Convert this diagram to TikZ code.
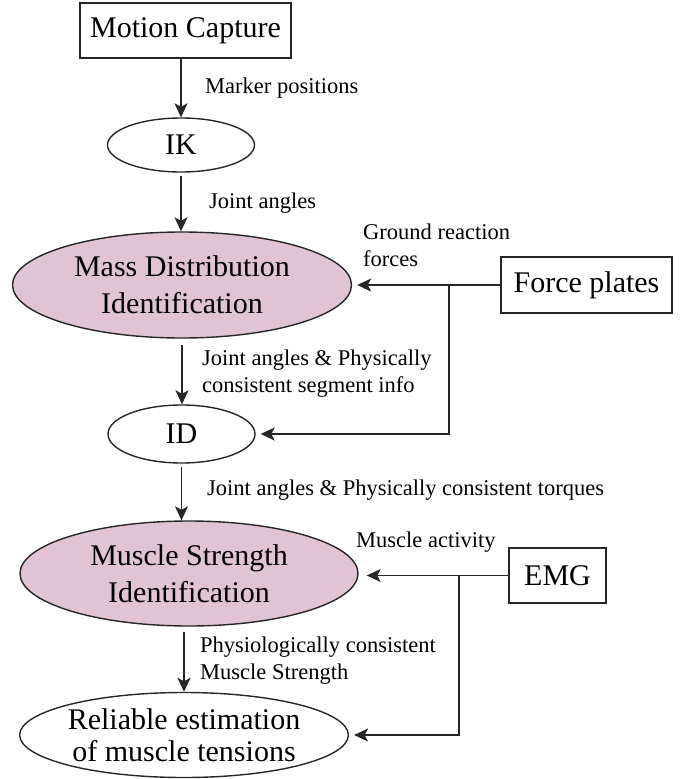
\documentclass[tikz,border=0pt]{standalone}
\usepackage{fontspec}
\setmainfont{Liberation Serif}
\usetikzlibrary{shapes.geometric, arrows.meta}
\definecolor{idpink}{RGB}{224,196,212}

\begin{document}
\begin{tikzpicture}[
    x=1pt, y=-1pt,
    bigtext/.style={font=\fontsize{30}{37}\selectfont, align=center, inner sep=0pt},
    datbox/.style={bigtext, rectangle, draw=black!85, line width=1.4pt},
    procell/.style={bigtext, ellipse, draw=black!85, line width=1.4pt},
    identcell/.style={procell, fill=idpink},
    flowtext/.style={font=\fontsize{22.5}{27}\selectfont, align=left, inner sep=0pt, anchor=north west},
    flowarr/.style={-{Stealth[length=14pt, width=13pt, inset=3.5pt]}, line width=1.4pt, black!85}
]
    \useasboundingbox (0,0) rectangle (683,779);

    % --- main column ---
    \node[datbox, minimum width=211pt, minimum height=55pt] (mocap) at (185.5,30.5) {Motion Capture};
    \node[procell, minimum width=147pt, minimum height=54pt] (ik) at (181,145) {IK};
    \node[identcell, minimum width=339pt, minimum height=106pt] (mdi) at (182,285) {Mass Distribution\\Identification};
    \node[procell, minimum width=147pt, minimum height=58pt] (id) at (181.5,434) {ID};
    \node[identcell, minimum width=338pt, minimum height=105pt] (msi) at (189,573.5) {Muscle Strength\\Identification};
    \node[procell, minimum width=304pt, minimum height=85pt, font=\fontsize{30}{32}\selectfont] (rel) at (184,735) {Reliable estimation\\of muscle tensions};

    % --- measured inputs ---
    \node[datbox, minimum width=171pt, minimum height=56pt] (fplate) at (586.5,285) {Force plates};
    \node[datbox, minimum width=97pt, minimum height=55pt] (emg) at (557.5,575.5) {EMG};

    % --- arrows down the column ---
    \draw[flowarr] (mocap.south -| ik.north) -- (ik.north);
    \draw[flowarr, shorten <=3pt] (ik.south) -- (ik.south |- mdi.north);
    \draw[flowarr, shorten <=6pt] (mdi.south) -- (mdi.south |- id.north);
    \draw[flowarr, shorten <=3pt] (id.south) -- (id.south |- msi.north);
    \draw[flowarr, shorten <=5pt] (msi.south -| rel.north) -- (rel.north);

    % --- arrows from the measured inputs ---
    \draw[flowarr, shorten >=5pt] (fplate.west) -- (mdi.east);
    \coordinate (fpjoin) at (449,285);
    \draw[flowarr, shorten >=5pt] (fpjoin) |- (id.east);

    \draw[flowarr, shorten >=8pt] (emg.west) -- (emg.west -| msi.east);
    \coordinate (emgjoin) at (459,576);
    \draw[flowarr, shorten >=5pt] (emgjoin) |- (rel.east);

    % --- labels ---
    \node[flowtext] (lbmark) at (205,78) {Marker positions};
    \node[flowtext] (lbjoint) at (209,193) {Joint angles};
    \node[flowtext] (lbgrf) at (363,224) {Ground reaction\\forces};
    \node[flowtext] (lbseg) at (202,350) {Joint angles \& Physically\\consistent segment info};
    \node[flowtext] (lbtorq) at (207,480) {Joint angles \& Physically consistent torques};
    \node[flowtext] (lbmusc) at (356,532) {Muscle activity};
    \node[flowtext] (lbphys) at (200,637) {Physiologically consistent\\Muscle Strength};

\end{tikzpicture}
\end{document}
